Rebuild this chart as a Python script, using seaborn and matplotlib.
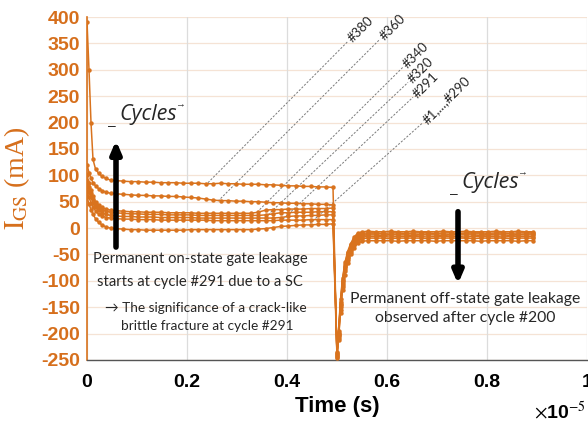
import numpy as np
import pandas as pd
import matplotlib
matplotlib.use("Agg")
import matplotlib.pyplot as plt
import seaborn as sns

# ---------------- data (time in units of 1e-5 s, current in mA) ----------------
t_on = [0, 0.004, 0.008, 0.012, 0.017, 0.023, 0.030, 0.038, 0.047,
        0.057, 0.072, 0.087, 0.102, 0.117, 0.132, 0.147, 0.162, 0.177, 0.192,
        0.207, 0.222, 0.237, 0.252, 0.267, 0.282, 0.297, 0.312, 0.327, 0.342,
        0.357, 0.372, 0.387, 0.402, 0.417, 0.432, 0.447, 0.462, 0.477, 0.492]

t_off = [0.500, 0.503, 0.507, 0.511, 0.516, 0.521, 0.527, 0.534, 0.541,
         0.550, 0.562, 0.577, 0.592, 0.607, 0.622, 0.637, 0.652, 0.667,
         0.682, 0.697, 0.712, 0.727, 0.742, 0.757, 0.772, 0.787, 0.802,
         0.817, 0.832, 0.847, 0.862, 0.877, 0.892]

cycles = ["A", "B", "C", "D", "E", "F", "G"]

on_A = [390, 300, 200, 130, 112, 104, 98, 94, 91,
        90, 89, 88, 88, 87, 87, 86, 86, 86, 85,
        85, 85, 84, 84, 85, 84, 84, 83, 83, 83,
        82, 82, 81, 80, 80, 79, 79, 78, 78, 77]
on_B = [120, 105, 95, 86, 80, 75, 71, 68, 66,
        65, 64, 63, 62, 62, 61, 61, 60, 60, 59,
        58, 57, 55, 53, 52, 52, 51, 51, 50, 50,
        49, 48, 48, 47, 47, 46, 46, 45, 45, 44]
on_C = [100, 85, 72, 60, 50, 44, 39, 36, 34,
        33, 32, 31, 31, 30, 30, 30, 29, 29, 29,
        29, 28, 28, 28, 28, 28, 28, 28, 28, 30,
        34, 35, 35, 36, 36, 36, 37, 37, 37, 38]
on_D = [90, 78, 66, 55, 46, 40, 35, 32, 30,
        29, 28, 27, 27, 26, 26, 26, 25, 25, 25,
        25, 24, 24, 24, 24, 24, 24, 24, 24, 24,
        25, 27, 29, 29, 30, 30, 30, 31, 31, 31]
on_E = [80, 68, 58, 48, 40, 34, 29, 26, 24,
        23, 22, 22, 21, 21, 21, 20, 20, 20, 20,
        20, 19, 19, 19, 19, 19, 19, 19, 19, 19,
        19, 19, 20, 22, 23, 23, 24, 24, 25, 25]
on_F = [70, 58, 48, 40, 33, 27, 23, 20, 19,
        18, 17, 17, 16, 16, 16, 15, 15, 15, 15,
        15, 15, 15, 14, 14, 14, 14, 14, 14, 14,
        14, 14, 15, 15, 15, 15, 16, 16, 16, 16]
on_G = [60, 45, 35, 26, 18, 11, 6, 2, 0,
        -1, -2, -3, -3, -4, -4, -4, -4, -4, -4,
        -3, -3, -3, -3, -3, -3, -3, -3, -3, -2,
        -1, 1, 3, 4, 5, 6, 6, 7, 7, 8]

off_A = [-244, -195, -135, -95, -65, -45, -30, -17, -10,
         -7, -6, -7, -7, -6, -7, -7, -6, -7, -7, -7, -6,
         -7, -7, -6, -7, -7, -7, -6, -7, -7, -6, -7, -7]
off_B = [-242, -198, -140, -98, -68, -48, -33, -20, -13,
         -10, -9, -9, -10, -9, -9, -10, -9, -9, -9, -10, -9,
         -9, -10, -9, -9, -9, -10, -9, -9, -10, -9, -9, -9]
off_C = [-240, -200, -143, -101, -71, -51, -36, -23, -15,
         -12, -11, -11, -11, -12, -11, -11, -11, -12, -11, -11, -11,
         -12, -11, -11, -11, -11, -12, -11, -11, -11, -12, -11, -11]
off_D = [-238, -202, -146, -104, -74, -54, -38, -26, -18,
         -14, -13, -13, -14, -13, -13, -13, -14, -13, -13, -13, -14,
         -13, -13, -13, -13, -14, -13, -13, -13, -14, -13, -13, -13]
off_E = [-236, -205, -150, -108, -78, -57, -41, -29, -21,
         -17, -16, -16, -16, -17, -16, -16, -16, -16, -17, -16, -16,
         -16, -16, -17, -16, -16, -16, -16, -17, -16, -16, -16, -16]
off_F = [-234, -208, -155, -112, -82, -61, -45, -33, -24,
         -20, -19, -19, -19, -20, -19, -19, -19, -19, -20, -19, -19,
         -19, -19, -19, -20, -19, -19, -19, -19, -20, -19, -19, -19]
off_G = [-246, -212, -160, -118, -88, -67, -50, -38, -29,
         -25, -24, -24, -24, -24, -25, -24, -24, -24, -24, -25, -24,
         -24, -24, -24, -24, -25, -24, -24, -24, -24, -25, -24, -24]

on_vals = [on_A, on_B, on_C, on_D, on_E, on_F, on_G]
off_vals = [off_A, off_B, off_C, off_D, off_E, off_F, off_G]

# leader-line annotations
lead_labels = ["#380", "#360", "#340", "#320", "#291", "#1,...,#290"]
lead_t0 = [0.242, 0.262, 0.340, 0.362, 0.392, 0.446]
lead_v0 = [86, 51, 30, 25, 17, 9]
lead_t1 = [0.522, 0.586, 0.632, 0.642, 0.652, 0.672]
lead_v1 = [354, 358, 305, 276, 248, 200]

x_ticks = [0, 0.2, 0.4, 0.6, 0.8, 1]
y_ticks = list(range(-250, 401, 50))

# ---------------- build long table ----------------
rows = []
for c, on, off in zip(cycles, on_vals, off_vals):
    for t, v in zip(t_on + t_off, on + off):
        rows.append({"cycle": c, "t": t, "I": v})
df = pd.DataFrame(rows)

# ---------------- style ----------------
sns.set_style("white")
plt.rcParams["font.family"] = ["Liberation Sans", "DejaVu Sans"]
plt.rcParams["mathtext.fontset"] = "stix"

ORANGE = "#D9731E"
TICKOR = "#D66F1C"
TXT = ["Lato", "DejaVu Sans"]

fig = plt.figure(figsize=(5.88, 4.24), dpi=100)
ax = fig.add_axes([87/588, 64/424, 500/588, 343/424])

for yv in y_ticks:
    ax.axhline(yv, color="#f5e3d5", lw=0.9, zorder=0)
for xv in x_ticks:
    ax.axvline(xv, color="#dcdcdc", lw=0.9, zorder=0)

sns.lineplot(data=df, x="t", y="I", hue="cycle", units="cycle",
             estimator=None, sort=False, legend=False,
             palette=[ORANGE] * len(cycles), marker="o", markersize=3.2,
             markeredgewidth=0, linewidth=1.1, ax=ax, zorder=3)

ax.set_xlim(0, 1)
ax.set_ylim(-250, 400)
ax.set_xticks(x_ticks)
ax.set_xticklabels(["%g" % v for v in x_ticks])
ax.set_yticks(y_ticks)
ax.set_yticklabels([str(v) for v in y_ticks])

for s in ["top", "right"]:
    ax.spines[s].set_visible(False)
ax.spines["left"].set_color(ORANGE)
ax.spines["left"].set_linewidth(1.2)
ax.spines["bottom"].set_color("#555555")
ax.spines["bottom"].set_linewidth(1.0)

ax.tick_params(axis="y", direction="in", length=5, color=ORANGE, pad=5,
               labelsize=14, labelcolor=TICKOR)
ax.tick_params(axis="x", direction="in", length=5, color="#555555", pad=10,
               labelsize=14, labelcolor="black")
for lab in ax.get_xticklabels() + ax.get_yticklabels():
    lab.set_fontweight("bold")

ax.set_xlabel("Time (s)", fontsize=16, fontweight="bold", color="black")
ax.xaxis.set_label_coords(0.5, -0.105)
ax.set_ylabel(r"$\mathrm{I_{GS}}$ (mA)", fontsize=20, color=TICKOR,
              family=["Liberation Serif", "DejaVu Serif"])
ax.yaxis.set_label_coords(-0.11, 0.53)

fig.text(560/588, 1 - 412/424, r"$\times$10$^{-5}$", fontsize=14,
         fontweight="bold", ha="center", va="center", color="black")

# leader lines + labels
for lab, t0, v0, t1, v1 in zip(lead_labels, lead_t0, lead_v0, lead_t1, lead_v1):
    ax.plot([t0, t1], [v0, v1], color="#7a7a7a", lw=0.7,
            linestyle=(0, (2.2, 1.6)), zorder=2)
    ax.text(t1 + 0.004, v1 + 2, lab, rotation=45, rotation_mode="anchor",
            ha="left", va="center", fontsize=9.5, family=TXT)

# black arrows
ax.annotate("", xy=(0.058, 166), xytext=(0.058, -36),
            arrowprops=dict(arrowstyle="-|>,head_width=0.3,head_length=0.7",
                            lw=4, color="black", shrinkA=0, shrinkB=0),
            zorder=5)
ax.annotate("", xy=(0.742, -106), xytext=(0.742, 31),
            arrowprops=dict(arrowstyle="-|>,head_width=0.3,head_length=0.7",
                            lw=4, color="black", shrinkA=0, shrinkB=0),
            zorder=5)

# "Cycles" hand-written marks
for cx, cy in [(0.122, 215), (0.806, 86)]:
    ax.text(cx, cy, "Cycles", fontsize=15.5, style="italic",
            family=["Open Sans", "DejaVu Sans"], ha="center", va="center")
    ax.text(cx - 0.072, cy - 22, "\u2012", fontsize=10, ha="center", va="center")
    ax.text(cx + 0.064, cy + 20, "\u2192", fontsize=7, ha="center", va="center")

# text blocks
ax.text(0.226, -58, "Permanent on-state gate leakage",
        fontsize=10.6, ha="center", va="center", family=TXT)
ax.text(0.226, -103, "starts at cycle #291 due to a SC",
        fontsize=10.6, ha="center", va="center", family=TXT)
ax.text(0.238, -152, "\u2192 The significance of a crack-like",
        fontsize=9.8, ha="center", va="center", family=TXT)
ax.text(0.240, -186, "brittle fracture at cycle #291",
        fontsize=9.8, ha="center", va="center", family=TXT)
ax.text(0.756, -134, "Permanent off-state gate leakage",
        fontsize=11.3, ha="center", va="center", family=TXT)
ax.text(0.756, -170, "observed after cycle #200",
        fontsize=11.3, ha="center", va="center", family=TXT)

fig.savefig("out.png", dpi=100)
